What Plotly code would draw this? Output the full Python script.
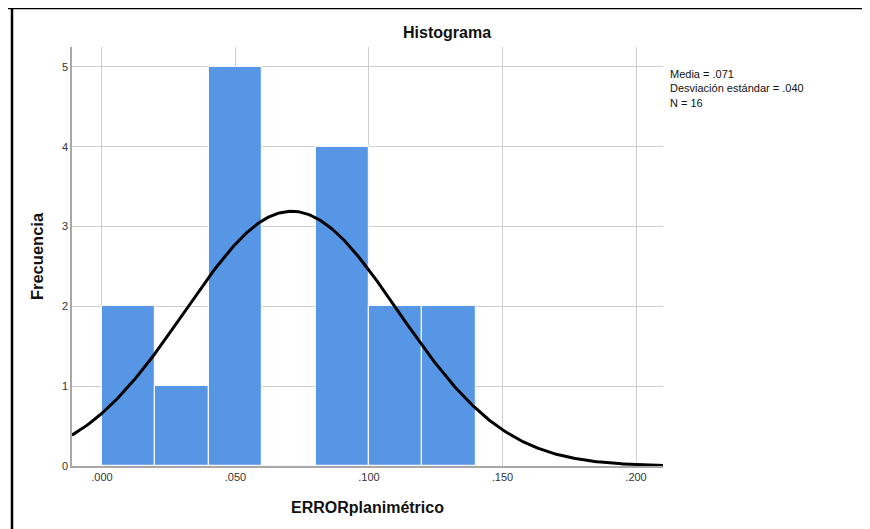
import numpy as np
import plotly.graph_objects as go

# Histogram data (bin start, counts)
bin_starts = [0.00, 0.02, 0.04, 0.06, 0.08, 0.10, 0.12]
counts = [2, 1, 5, 0, 4, 2, 2]
bin_width = 0.02

# Reported statistics
media = 0.071
desv = 0.040
n_obs = 16

x_tick_vals = [0.0, 0.05, 0.10, 0.15, 0.20]
x_tick_text = [".000", ".050", ".100", ".150", ".200"]
y_tick_vals = [0, 1, 2, 3, 4, 5]

x_range = [-0.0112, 0.2101]
y_range = [0, 5.25]

# Normal curve from the reported mean / SD, scaled to counts
xs = np.linspace(x_range[0], x_range[1], 400)
ys = n_obs * bin_width / (desv * np.sqrt(2 * np.pi)) * np.exp(-0.5 * ((xs - media) / desv) ** 2)

fig = go.Figure()
fig.add_trace(go.Bar(
    x=[b + bin_width / 2 for b in bin_starts], y=counts, width=bin_width,
    marker=dict(color="#5796E4", line=dict(color="#F4F8FE", width=1.2)),
    showlegend=False, hoverinfo="skip"))
fig.add_trace(go.Scatter(x=xs, y=ys, mode="lines",
                         line=dict(color="black", width=3), showlegend=False,
                         hoverinfo="skip", cliponaxis=True))

font = "Liberation Sans, Arial, sans-serif"
# page body has an 8px margin: plot area on screen is x 72..663, y 47..466
fig.update_layout(
    width=862, height=521,
    margin=dict(l=64, r=207, t=39, b=63),
    paper_bgcolor="white", plot_bgcolor="white",
    font=dict(family=font, size=11, color="#222"),
    bargap=0,
)
fig.update_xaxes(range=x_range, tickvals=x_tick_vals, ticktext=x_tick_text,
                 showgrid=True, gridcolor="#CFCFCF", gridwidth=1,
                 showline=True, linecolor="#A8A8A8", linewidth=1.5,
                 zeroline=False, ticks="", tickfont=dict(size=11, color="#333"),
                 title=dict(text="<b>ERRORplanimétrico</b>", font=dict(size=16, color="#111"), standoff=20))
fig.update_yaxes(range=y_range, tickvals=y_tick_vals,
                 showgrid=True, gridcolor="#CFCFCF", gridwidth=1,
                 showline=True, linecolor="#A8A8A8", linewidth=1.5,
                 zeroline=False, ticks="", tickfont=dict(size=11, color="#333"),
                 title=dict(text="<b>Frecuencia</b>", font=dict(size=16.5, color="#111"), standoff=14))

fig.add_annotation(text="<b>Histograma</b>", xref="paper", yref="paper",
                   x=(447 - 72) / 591, y=(466 - 32) / 419, showarrow=False,
                   font=dict(size=16, color="#111"), xanchor="center", yanchor="middle")
fig.add_annotation(text=f"Media = {media:.3f}".replace("0.", ".") + "<br>" +
                   f"Desviación estándar = {desv:.3f}".replace("0.", ".") + "<br>" +
                   f"N = {n_obs}",
                   xref="paper", yref="paper", x=(668 - 72) / 591, y=(466 - 66) / 419,
                   showarrow=False, align="left", xanchor="left", yanchor="top",
                   font=dict(size=11, color="#111"))

# Frame lines (top and left)
fig.add_shape(type="line", xref="paper", yref="paper",
              x0=(6 - 72) / 591, x1=(880 - 72) / 591, y0=(466 - 8) / 419, y1=(466 - 8) / 419,
              line=dict(color="black", width=2.5))
fig.add_shape(type="line", xref="paper", yref="paper",
              x0=(12 - 72) / 591, x1=(12 - 72) / 591, y0=(466 - 8) / 419, y1=(466 - 540) / 419,
              line=dict(color="black", width=2.5))

fig.write_html("out.html")
